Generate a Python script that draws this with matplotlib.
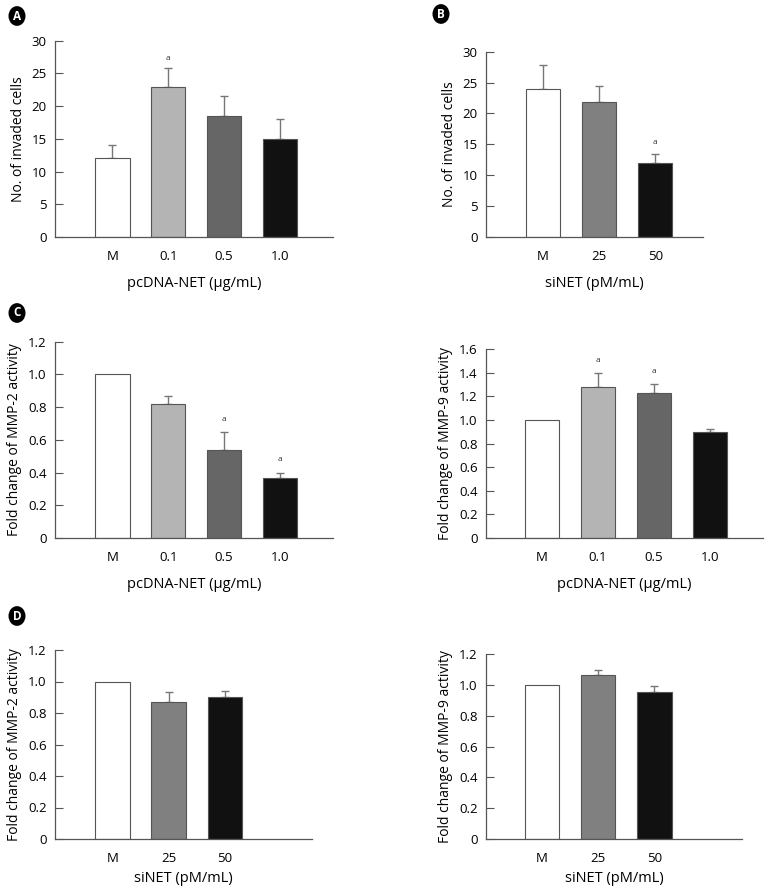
import matplotlib
matplotlib.use("Agg")
import matplotlib.pyplot as plt
from matplotlib.patches import Circle

plt.rcParams['font.family'] = ['Open Sans', 'DejaVu Sans']

# ---- data ----
pc_labels = ["M", "0.1", "0.5", "1.0"]
si_labels = ["M", "25", "50"]
pc_colors = ["#ffffff", "#b4b4b4", "#666666", "#111111"]
si_colors = ["#ffffff", "#808080", "#111111"]

inv_pc = [12.0, 22.9, 18.5, 15.0]
inv_pc_err = [2.1, 2.9, 3.1, 3.0]
inv_pc_sig = [False, True, False, False]

inv_si = [24.0, 21.9, 12.0]
inv_si_err = [3.9, 2.5, 1.5]
inv_si_sig = [False, False, True]

mmp2_pc = [1.0, 0.82, 0.54, 0.365]
mmp2_pc_err = [0.0, 0.05, 0.105, 0.035]
mmp2_pc_sig = [False, False, True, True]

mmp9_pc = [1.0, 1.28, 1.227, 0.896]
mmp9_pc_err = [0.0, 0.115, 0.075, 0.025]
mmp9_pc_sig = [False, True, True, False]

mmp2_si = [1.0, 0.868, 0.904]
mmp2_si_err = [0.0, 0.063, 0.034]
mmp2_si_sig = [False, False, False]

mmp9_si = [1.0, 1.063, 0.953]
mmp9_si_err = [0.0, 0.033, 0.041]
mmp9_si_sig = [False, False, False]

W, H = 765, 888
fig = plt.figure(figsize=(W / 100, H / 100), dpi=100)


def px_axes(x0, x1, ytop, ybot):
    return fig.add_axes([x0 / W, 1 - ybot / H, (x1 - x0) / W, (ybot - ytop) / H])


def panel(ax, labels, vals, errs, sig, colors, ylim, yticks, ytlabels,
          xlim, ylabel, xlabel, sig_off, xlpad=10):
    x = list(range(len(vals)))
    ax.bar(x, vals, width=0.61, color=colors, edgecolor="#555555",
           linewidth=0.8, zorder=2)
    for xi, v, e in zip(x, vals, errs):
        if e > 0:
            ax.errorbar(xi, v, yerr=[[0], [e]], fmt="none", ecolor="#777777",
                        elinewidth=1.0, capsize=3, capthick=1.0, zorder=1)
    for xi, v, e, s in zip(x, vals, errs, sig):
        if s:
            ax.text(xi, v + e + sig_off, "a", ha="center", va="bottom",
                    fontsize=6, color="#333333")
    ax.set_xlim(*xlim)
    ax.set_ylim(*ylim)
    ax.set_yticks(yticks)
    ax.set_yticklabels(ytlabels, fontsize=9.5)
    ax.set_xticks(x)
    ax.set_xticklabels(labels, fontsize=9.5)
    ax.tick_params(axis="y", direction="in", length=6, width=0.8,
                   color="#555555", pad=6)
    ax.tick_params(axis="x", length=0, pad=9)
    for s in ["top", "right"]:
        ax.spines[s].set_visible(False)
    for s in ["left", "bottom"]:
        ax.spines[s].set_color("#555555")
        ax.spines[s].set_linewidth(0.9)
    ax.set_ylabel(ylabel, fontsize=10, labelpad=4)
    ax.set_xlabel(xlabel, fontsize=10.5, labelpad=xlpad)


inv_ticks = [0, 5, 10, 15, 20, 25, 30]
inv_tl = [str(t) for t in inv_ticks]
f12 = [0, 0.2, 0.4, 0.6, 0.8, 1.0, 1.2]
f12_tl = ["0", "0.2", "0.4", "0.6", "0.8", "1.0", "1.2"]
f16 = [0, 0.2, 0.4, 0.6, 0.8, 1.0, 1.2, 1.4, 1.6]
f16_tl = ["0", "0.2", "0.4", "0.6", "0.8", "1.0", "1.2", "1.4", "1.6"]

ax = px_axes(55, 333, 40.7, 237)
panel(ax, pc_labels, inv_pc, inv_pc_err, inv_pc_sig, pc_colors, (0, 30),
      inv_ticks, inv_tl, (-1.03, 3.95), "No. of invaded cells",
      "pcDNA-NET (μg/mL)", 0.9)

ax = px_axes(486, 703, 51.7, 237)
panel(ax, si_labels, inv_si, inv_si_err, inv_si_sig, si_colors, (0, 30),
      inv_ticks, inv_tl, (-1.01, 2.85), "No. of invaded cells",
      "siNET (pM/mL)", 1.2)

ax = px_axes(55, 333, 341.7, 538)
panel(ax, pc_labels, mmp2_pc, mmp2_pc_err, mmp2_pc_sig, pc_colors, (0, 1.2),
      f12, f12_tl, (-1.03, 3.95), "Fold change of MMP-2 activity",
      "pcDNA-NET (μg/mL)", 0.06)

ax = px_axes(486, 763, 349, 538)
panel(ax, pc_labels, mmp9_pc, mmp9_pc_err, mmp9_pc_sig, pc_colors, (0, 1.6),
      f16, f16_tl, (-1.0, 3.95), "Fold change of MMP-9 activity",
      "pcDNA-NET (μg/mL)", 0.08)

ax = px_axes(55, 312, 650, 839)
panel(ax, si_labels, mmp2_si, mmp2_si_err, mmp2_si_sig, si_colors, (0, 1.2),
      f12, f12_tl, (-1.02, 3.55), "Fold change of MMP-2 activity",
      "siNET (pM/mL)", 0.06, xlpad=5)

ax = px_axes(486, 742, 654, 839)
panel(ax, si_labels, mmp9_si, mmp9_si_err, mmp9_si_sig, si_colors, (0, 1.2),
      f12, f12_tl, (-1.0, 3.56), "Fold change of MMP-9 activity",
      "siNET (pM/mL)", 0.06, xlpad=5)

# panel letters
for letter, px, py in [("A", 17, 16), ("B", 441, 14), ("C", 17, 313), ("D", 17, 616)]:
    fig.patches.append(Circle((px / W, 1 - py / H), 8.5 / W, transform=fig.transFigure,
                              facecolor="black", edgecolor="none"))
    fig.text(px / W, 1 - py / H, letter, ha="center", va="center",
             color="white", fontsize=8.5, fontweight="bold")

fig.savefig("out.png", dpi=100)
